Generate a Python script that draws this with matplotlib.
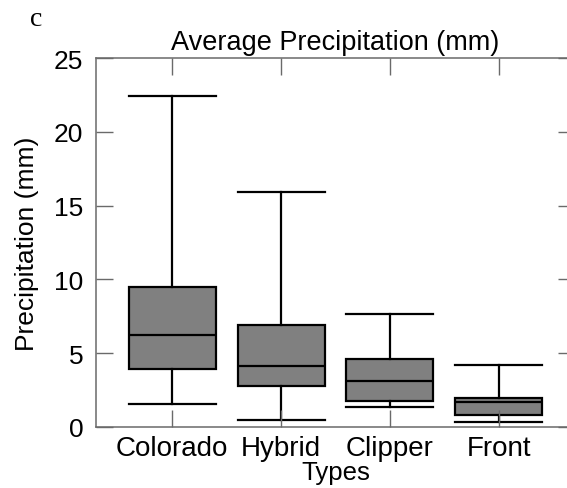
import matplotlib
matplotlib.use("Agg")
import matplotlib.pyplot as plt

# values (mm)
types = ["Colorado", "Hybrid", "Clipper", "Front"]
whisker_low = [1.52, 0.47, 1.31, 0.30]
q1 = [3.94, 2.74, 1.72, 0.77]
median = [6.22, 4.12, 3.10, 1.65]
q3 = [9.46, 6.90, 4.59, 1.97]
whisker_high = [22.43, 15.94, 7.65, 4.21]

plt.rcParams['font.family'] = ['Liberation Sans', 'DejaVu Sans']

stats = []
for i in range(len(types)):
    stats.append({
        'label': types[i],
        'whislo': whisker_low[i],
        'q1': q1[i],
        'med': median[i],
        'q3': q3[i],
        'whishi': whisker_high[i],
        'fliers': [],
    })

fig = plt.figure(figsize=(5.67, 4.89), dpi=100)
ax = fig.add_axes([0.1693, 0.1254, 0.8448, 0.7533])

pos = list(range(1, len(types) + 1))
lw = 1.6
ax.bxp(stats, positions=pos, widths=0.8, capwidths=0.8, patch_artist=True,
       showfliers=False,
       boxprops=dict(facecolor='#808080', edgecolor='black', linewidth=lw),
       medianprops=dict(color='black', linewidth=lw),
       whiskerprops=dict(color='black', linewidth=lw),
       capprops=dict(color='black', linewidth=lw))

ax.set_xlim(0.3, 4.7)
ax.set_ylim(0, 25)
ax.set_yticks([0, 5, 10, 15, 20, 25])
ax.set_xticks(pos)
ax.set_xticklabels(types)
ax.set_axisbelow(False)

for s in ax.spines.values():
    s.set_color('#6a6a6a')
    s.set_linewidth(1.1)
ax.tick_params(axis='both', direction='in', length=12, width=1.0, color='#6a6a6a',
               top=True, right=True)
ax.tick_params(axis='y', labelsize=19, pad=9)
ax.tick_params(axis='x', labelsize=20, pad=6)

ax.set_title("Average Precipitation (mm)", fontsize=19.5, pad=7)
ax.set_ylabel("Precipitation (mm)", fontsize=19, labelpad=11)
ax.set_xlabel("Types", fontsize=18.5, labelpad=-1)

fig.text(30 / 567, 1 - 26 / 489, "c", fontsize=20, family='Liberation Serif',
         ha='left', va='baseline')

fig.savefig("out.png", dpi=100)
